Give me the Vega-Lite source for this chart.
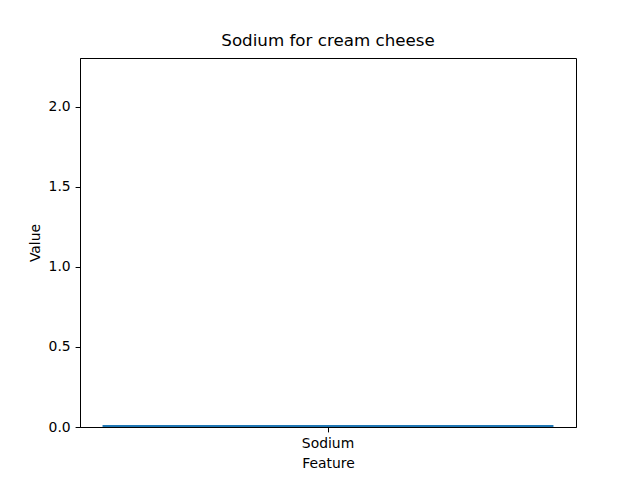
{
  "$schema": "https://vega.github.io/schema/vega-lite/v6.json",
  "width": 496,
  "height": 369,
  "autosize": {"type": "none"},
  "padding": {"left": 80, "top": 58, "right": 64, "bottom": 53},
  "background": "white",
  "title": {"text": "Sodium for cream cheese", "font": "DejaVu Sans", "fontSize": 16.7, "fontWeight": "normal", "color": "black", "offset": 8},
  "data": {"values": [{"Feature": "Sodium", "Value": 0.013}]},
  "mark": {"type": "bar", "color": "#1f77b4"},
  "encoding": {
    "x": {"field": "Feature", "type": "nominal", "title": "Feature",
      "scale": {"paddingInner": 0, "paddingOuter": 0.05},
      "axis": {"labelAngle": 0}},
    "y": {"field": "Value", "type": "quantitative", "title": "Value",
      "scale": {"domain": [0, 2.306], "nice": false, "zero": true},
      "axis": {"values": [0, 0.5, 1, 1.5, 2], "format": ".1f", "grid": false}}
  },
  "config": {
    "view": {"stroke": "black", "strokeWidth": 1},
    "axis": {
      "domainColor": "black", "tickColor": "black", "tickSize": 4.9,
      "labelFont": "DejaVu Sans", "labelFontSize": 13.9, "labelColor": "black",
      "titleFont": "DejaVu Sans", "titleFontSize": 13.9, "titleFontWeight": "normal", "titleColor": "black",
      "labelPadding": 4.9, "titlePadding": 5.6
    }
  }
}
